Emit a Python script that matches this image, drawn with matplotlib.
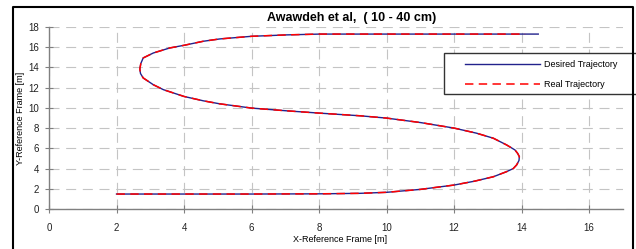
import matplotlib
matplotlib.use("Agg")
import matplotlib.pyplot as plt
from matplotlib.lines import Line2D
from matplotlib.patches import Rectangle

plt.rcParams['font.family'] = ['Liberation Sans', 'DejaVu Sans']

# ---- data ----
desired_x = [2.0, 4.0, 6.0, 8.0, 9.21, 10.0, 11.0, 12.0, 12.6, 13.16, 13.55, 13.75, 13.85, 13.92,
             13.93, 13.88, 13.8, 13.55, 13.16, 12.66, 12.0, 11.0, 10.0, 9.21, 8.02, 7.04, 6.0,
             5.06, 4.57, 4.0, 3.39, 3.09, 2.79, 2.71, 2.69, 2.72, 2.79, 3.09, 3.58, 4.0, 4.57,
             5.06, 6.0, 7.04, 8.02, 10.0, 12.0, 14.49]
desired_y = [1.48, 1.48, 1.48, 1.5, 1.55, 1.65, 1.94, 2.37, 2.75, 3.19, 3.69, 4.0, 4.36, 4.8,
             5.18, 5.5, 5.84, 6.34, 7.0, 7.5, 8.0, 8.55, 8.99, 9.22, 9.48, 9.71, 9.98,
             10.4, 10.7, 11.13, 11.8, 12.29, 12.96, 13.4, 13.85, 14.4, 14.94, 15.43, 15.93, 16.19, 16.59,
             16.82, 17.08, 17.22, 17.3, 17.3, 17.3, 17.3]
real_x = [2.0, 4.0, 6.0, 8.0, 9.21, 10.0, 11.0, 12.0, 12.6, 13.16, 13.55, 13.75, 13.85, 13.92,
          13.93, 13.88, 13.8, 13.55, 13.16, 12.66, 12.0, 11.0, 10.0, 9.21, 8.02, 7.04, 6.0,
          5.06, 4.57, 4.0, 3.39, 3.09, 2.79, 2.71, 2.69, 2.72, 2.79, 3.09, 3.58, 4.0, 4.57,
          5.06, 6.0, 7.04, 8.02, 10.0, 12.0, 14.1]
real_y = desired_y

x_ticks = [0, 2, 4, 6, 8, 10, 12, 14, 16]
y_ticks = [0, 2, 4, 6, 8, 10, 12, 14, 16, 18]

W, H = 636, 249
fig = plt.figure(figsize=(W / 100, H / 100), dpi=100)
fig.patch.set_facecolor('white')

ax = fig.add_axes([49 / W, 1 - 209 / H, (623 - 49) / W, (209 - 27) / H])
ax.set_xlim(0, 17)
ax.set_ylim(0, 18)

ax.plot(desired_x, desired_y, color='#22228c', lw=1.0, label='Desired Trajectory', zorder=3,
        solid_joinstyle='round')
ax.plot(real_x, real_y, color='#ff0000', lw=1.1, linestyle=(0, (5.5, 3.5)),
        label='Real Trajectory', zorder=4, dash_joinstyle='round')

ax.set_xticks(x_ticks)
ax.set_yticks(y_ticks)
ax.grid(True, color='#c4c4c4', linewidth=0.8, linestyle=(0, (9, 6)))
ax.set_axisbelow(True)

for s in ['top', 'right']:
    ax.spines[s].set_visible(False)
for s in ['left', 'bottom']:
    ax.spines[s].set_color('#808080')
    ax.spines[s].set_linewidth(1.0)

ax.tick_params(axis='both', direction='inout', length=6, width=0.8, color='#808080',
               labelsize=7, labelcolor='#222222')
ax.tick_params(axis='x', pad=7)
ax.tick_params(axis='y', pad=4)

fig.text(352 / W, 1 - 18 / H, 'Awawdeh et al,  ( 10 - 40 cm)', ha='center', va='center',
         fontsize=9, fontweight='bold')
fig.text(340 / W, 1 - 239 / H, 'X-Reference Frame [m]', ha='center', va='center', fontsize=6.5)
fig.text(21 / W, 1 - 118 / H, 'Y-Reference Frame [m]', ha='center', va='center', fontsize=6.5,
         rotation=90)

# legend
box = Rectangle((444 / W, 1 - 94 / H), (640 - 444) / W, (94 - 52.5) / H,
                transform=fig.transFigure, facecolor='white', edgecolor='#333333',
                linewidth=1.0, zorder=5, clip_on=False)
ax.add_patch(box)
leg = ax.legend(loc='center left', bbox_to_anchor=(465 / W, 1 - 74.5 / H),
                bbox_transform=fig.transFigure, frameon=False, fontsize=6.5,
                handlelength=8.3, handletextpad=0.45, labelspacing=1.25,
                borderpad=0, borderaxespad=0)
leg.set_zorder(6)

# outer frame
fig.lines.append(Line2D([12.5 / W, 12.5 / W, 632.5 / W, 632.5 / W], [0, 1 - 7.5 / H, 1 - 7.5 / H, 0],
                        transform=fig.transFigure, color='black', linewidth=1.5, zorder=10))

fig.savefig('out.png', dpi=100)
